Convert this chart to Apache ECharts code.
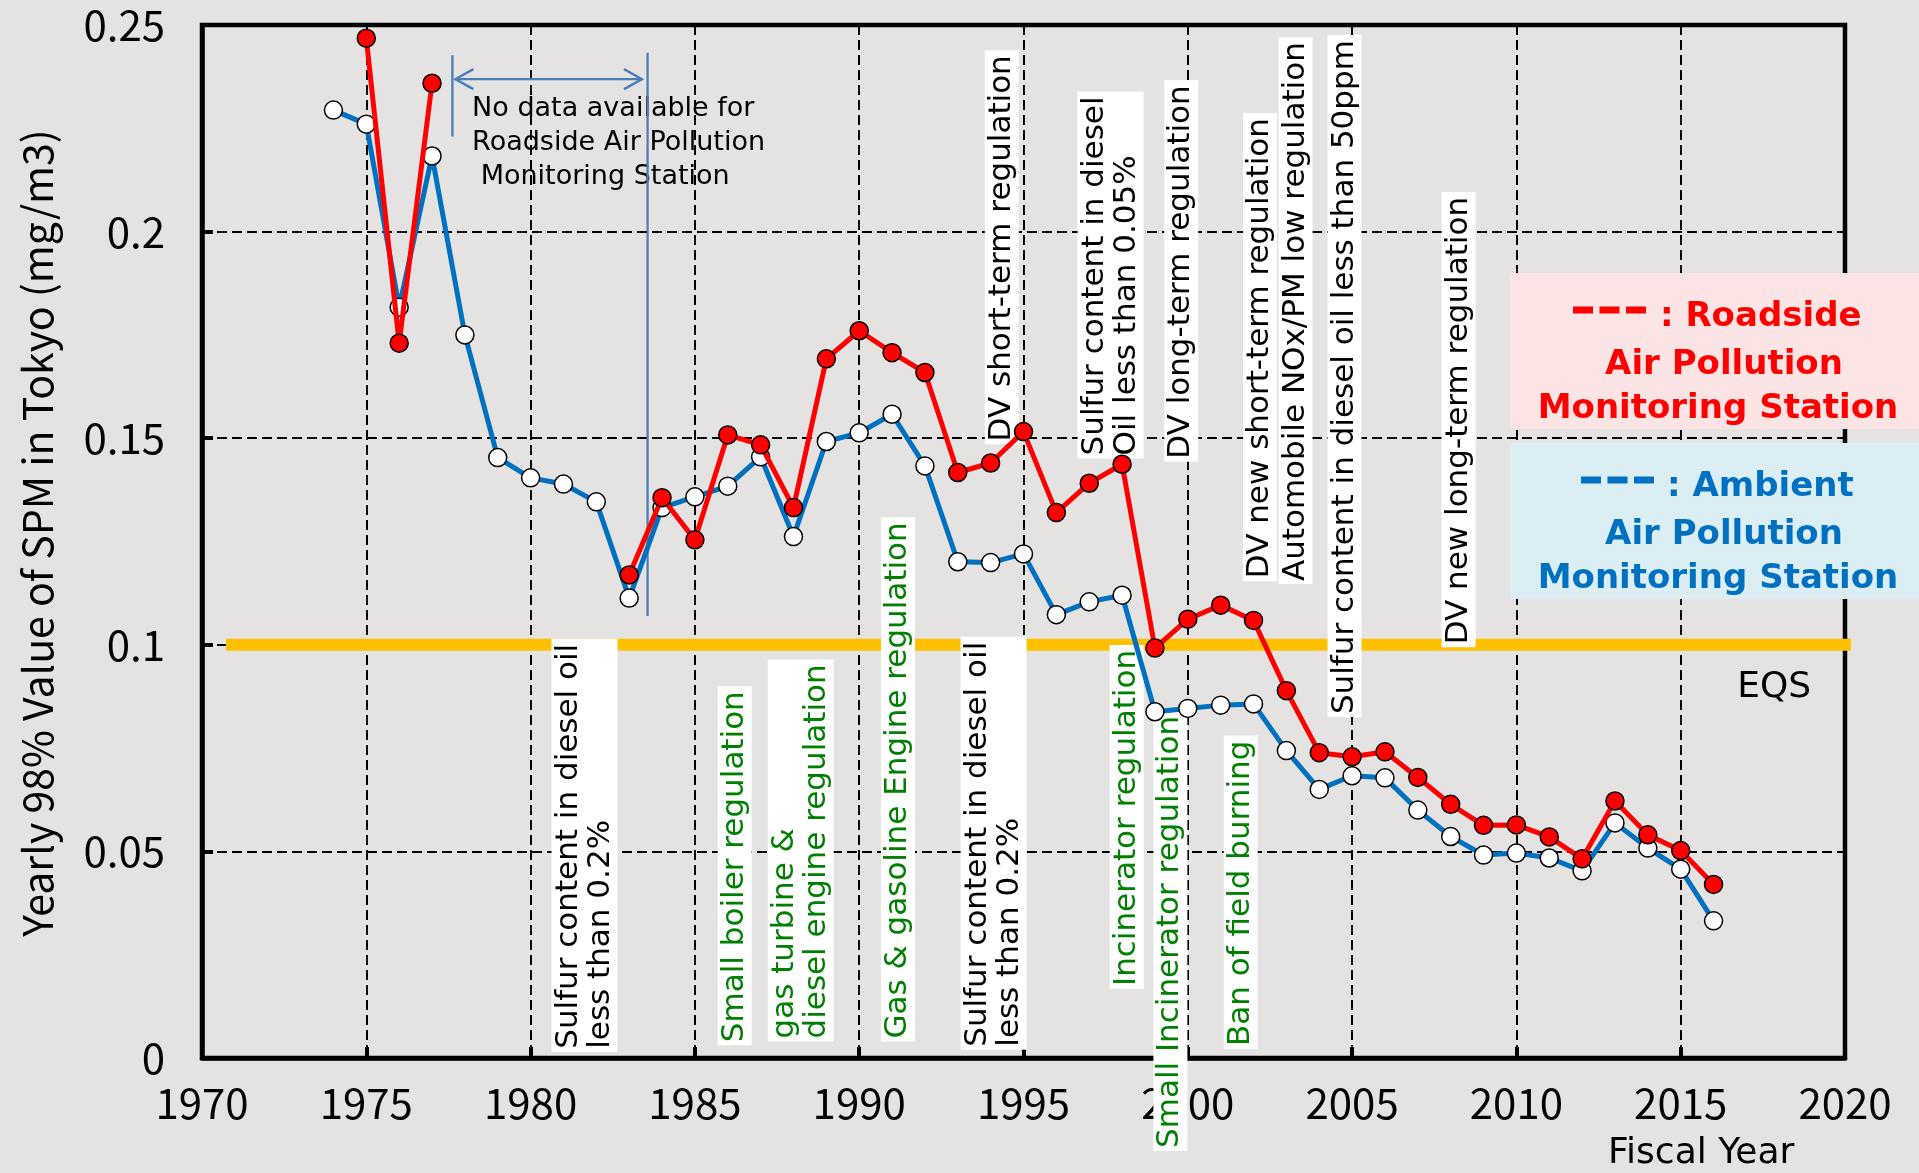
<!DOCTYPE html>
<html><head><meta charset="utf-8">
<script src="https://cdn.jsdelivr.net/npm/echarts@6/dist/echarts.min.js"></script>
<style>html,body{margin:0;padding:0;background:#E4E3E2;}#c{width:1919px;height:1173px;}</style>
</head><body><div id="c"></div>
<script>
// ---------- data ----------
const years = [1974,1975,1976,1977,1978,1979,1980,1981,1982,1983,1984,1985,1986,1987,1988,1989,1990,1991,1992,1993,1994,1995,1996,1997,1998,1999,2000,2001,2002,2003,2004,2005,2006,2007,2008,2009,2010,2011,2012,2013,2014,2015,2016];
const ambient = [0.2294,0.2260,0.1817,0.2183,0.1750,0.1453,0.1404,0.1389,0.1346,0.1113,
  0.1332,0.1358,0.1384,0.1455,0.1262,0.1492,0.1513,0.1558,0.1433,0.1201,
  0.1199,0.1220,0.1073,0.1104,0.1120,0.0838,0.0846,0.0854,0.0857,0.0744,
  0.0650,0.0683,0.0678,0.0600,0.0536,0.0491,0.0496,0.0484,0.0453,0.0569,
  0.0508,0.0457,0.0332];
const roadside = [null,0.2468,0.1730,0.2359,null,null,null,null,null,0.1169,
  0.1356,0.1254,0.1508,0.1484,0.1332,0.1692,0.1760,0.1707,0.1659,0.1417,
  0.1440,0.1516,0.1320,0.1391,0.1437,0.0992,0.1062,0.1096,0.1059,0.0889,
  0.0739,0.0729,0.0741,0.0679,0.0614,0.0563,0.0564,0.0535,0.0482,0.0622,
  0.0540,0.0502,0.0420];
const eqsValue = 0.1;
const eqsSpan = [1970.73, 2020.33];
const xTicks = {min: 1970, max: 2020, interval: 5};
const yTicks = {min: 0, max: 0.25, interval: 0.05};

// annotation texts (layout anchors kept separately from data)
const annotations = [
  {text:'Sulfur content in diesel oil\nless than 0.2%', color:'#000', year:1981.64, base:0.0015},
  {text:'Small boiler regulation', color:'#008000', year:1986.21, base:0.0031},
  {text:'gas turbine &\ndiesel engine regulation', color:'#008000', year:1988.22, base:0.0040},
  {text:'Gas & gasoline Engine regulation', color:'#008000', year:1991.18, base:0.0040},
  {text:'Sulfur content in diesel oil\nless than 0.2%', color:'#000', year:1994.09, base:0.0020},
  {text:'DV short-term regulation', color:'#000', year:1994.34, base:0.1485},
  {text:'Sulfur content in diesel\nOil less than 0.05%', color:'#000', year:1997.65, base:0.1451},
  {text:'DV long-term regulation', color:'#000', year:1999.80, base:0.1443},
  {text:'Incinerator regulation', color:'#008000', year:1998.14, base:0.0167},
  {text:'Small Incinerator regulation', color:'#008000', year:1999.47, base:-0.0225},
  {text:'Ban of field burning', color:'#008000', year:2001.61, base:0.0022},
  {text:'DV new short-term regulation', color:'#000', year:2002.20, base:0.1154},
  {text:'Automobile NOx/PM low regulation', color:'#000', year:2003.28, base:0.1147},
  {text:'Sulfur content in diesel oil less than 50ppm', color:'#000', year:2004.77, base:0.0825},
  {text:'DV new long-term regulation', color:'#000', year:2008.24, base:0.0994}
];

// ---------- chart ----------
const TICK_FONT = '"Noto Sans CJK JP", "Noto Sans", sans-serif';
const TXT_FONT = '"DejaVu Sans", Verdana, sans-serif';
const chart = echarts.init(document.getElementById('c'), null, {renderer:'canvas'});

const pairs = arr => years.map((y,i) => [y, arr[i] === null ? '-' : arr[i]]);

chart.setOption({
  backgroundColor: '#E4E3E2',
  animation: false,
  grid: {left: 202, right: 74, top: 25, bottom: 115, containLabel: false, outerBoundsMode: 'none',
    show: true, borderColor: '#000', borderWidth: 4.5, backgroundColor: 'transparent'},
  xAxis: {type: 'value', min: xTicks.min, max: xTicks.max, interval: xTicks.interval,
    axisLine: {show: true, onZero: false, lineStyle: {color: '#000', width: 4.5}},
    axisTick: {show: true, inside: true, length: 11, lineStyle: {color: '#000', width: 4}},
    axisLabel: {color: '#000', fontFamily: TICK_FONT, fontSize: 42, margin: 24, formatter: v => String(v)},
    splitLine: {show: true, lineStyle: {color: '#000', width: 2, type: [10, 5]}}},
  yAxis: {type: 'value', min: yTicks.min, max: yTicks.max, interval: yTicks.interval,
    axisLine: {show: true, onZero: false, lineStyle: {color: '#000', width: 4.5}},
    axisTick: {show: true, inside: true, length: 11, lineStyle: {color: '#000', width: 4}},
    axisLabel: {color: '#000', fontFamily: TICK_FONT, fontSize: 42, margin: 37},
    splitLine: {show: true, lineStyle: {color: '#000', width: 2, type: [10, 5]}}},
  series: [
    {name: 'EQS', type: 'line', data: [[eqsSpan[0], eqsValue], [eqsSpan[1], eqsValue]],
      symbol: 'none', clip: false, silent: true, z: 2,
      lineStyle: {color: '#FFC000', width: 12}},
    {name: 'Ambient', type: 'line', data: pairs(ambient), z: 4,
      symbol: 'circle', symbolSize: 18,
      itemStyle: {color: '#fff', borderColor: '#000', borderWidth: 1.5},
      lineStyle: {color: '#0070C0', width: 5}},
    {name: 'Roadside', type: 'line', data: pairs(roadside), z: 5, connectNulls: false,
      symbol: 'circle', symbolSize: 18,
      itemStyle: {color: '#FF0000', borderColor: '#000', borderWidth: 1.5},
      lineStyle: {color: '#FF0000', width: 5}}
  ]
});

const P = (x, y) => chart.convertToPixel({gridIndex: 0}, [x, y]);
const g = [];
annotations.forEach(a => {
  const p = P(a.year, a.base);
  g.push({type: 'text', x: p[0], y: p[1], rotation: Math.PI / 2, z: 3, silent: true,
    style: {text: a.text, fill: a.color, font: '31px ' + TXT_FONT, align: 'left', verticalAlign: 'middle',
      lineHeight: 32, backgroundColor: '#fff', padding: [1, 5, 1, 3]}});
});
// "No data" note with arrow
const blue = '#4A7EBB';
const nd = P(1978.22, 0.2337);
g.push({type: 'text', x: nd[0], y: nd[1], z: 3, silent: true,
  style: {text: 'No data available for\nRoadside Air Pollution\n Monitoring Station', fill: '#000',
    font: '27px ' + TXT_FONT, align: 'left', verticalAlign: 'top', lineHeight: 34}});
const l1a = P(1977.62, 0.2427), l1b = P(1977.62, 0.2230);
const l2a = P(1983.56, 0.2433), l2b = P(1983.56, 0.1070);
const aL = P(1977.71, 0.2369), aR = P(1983.39, 0.2369);
[[l1a, l1b], [l2a, l2b], [aL, aR]].forEach(([a, b]) => g.push({type: 'line', z: 3.5, silent: true,
  shape: {x1: a[0], y1: a[1], x2: b[0], y2: b[1]}, style: {stroke: blue, lineWidth: 2.3}}));
g.push({type: 'polyline', z: 3.5, silent: true, shape: {points: [[aL[0] + 18, aL[1] - 10], aL, [aL[0] + 18, aL[1] + 10]]},
  style: {stroke: blue, lineWidth: 2.3, fill: null}});
g.push({type: 'polyline', z: 3.5, silent: true, shape: {points: [[aR[0] - 18, aR[1] - 10], aR, [aR[0] - 18, aR[1] + 10]]},
  style: {stroke: blue, lineWidth: 2.3, fill: null}});
// EQS label
const eq = P(2016.72, 0.0896);
g.push({type: 'text', x: eq[0], y: eq[1], z: 3, silent: true,
  style: {text: 'EQS', fill: '#000', font: '36px ' + TXT_FONT, align: 'left', verticalAlign: 'middle'}});
// axis titles
g.push({type: 'text', x: 37, y: 533, rotation: Math.PI / 2, z: 3, silent: true,
  style: {text: 'Yearly 98% Value of SPM in Tokyo (mg/m3)', fill: '#000', font: '41px ' + TICK_FONT,
    align: 'center', verticalAlign: 'middle'}});
g.push({type: 'text', x: 1608, y: 1154, z: 3, silent: true,
  style: {text: 'Fiscal Year', fill: '#000', font: '36px ' + TXT_FONT, align: 'left', verticalAlign: 'middle'}});
// legend boxes
const BOLD = 'bold 34px ' + TXT_FONT;
function legendBox(top, bg, color, first, dashY, dashX, textX) {
  g.push({type: 'rect', z: 6, silent: true, shape: {x: 1510, y: top, width: 409, height: 156}, style: {fill: bg}});
  g.push({type: 'line', z: 7, silent: true, shape: {x1: dashX, y1: dashY, x2: dashX + 73, y2: dashY},
    style: {stroke: color, lineWidth: 7, lineDash: [20, 6.5]}});
  g.push({type: 'text', x: textX, y: top + 44, z: 7, silent: true,
    style: {text: first, fill: color, font: BOLD, align: 'left', verticalAlign: 'middle'}});
  g.push({type: 'text', x: 1724, y: top + 92, z: 7, silent: true,
    style: {text: 'Air Pollution', fill: color, font: BOLD, align: 'center', verticalAlign: 'middle'}});
  g.push({type: 'text', x: 1718, y: top + 136, z: 7, silent: true,
    style: {text: 'Monitoring Station', fill: color, font: BOLD, align: 'center', verticalAlign: 'middle'}});
}
legendBox(273, '#FDE4E4', '#FF0000', ': Roadside', 310, 1573, 1660);
legendBox(443, '#DAEEF3', '#0070C0', ': Ambient', 480, 1581, 1667);

chart.setOption({graphic: {elements: g}});
</script>
</body></html>
